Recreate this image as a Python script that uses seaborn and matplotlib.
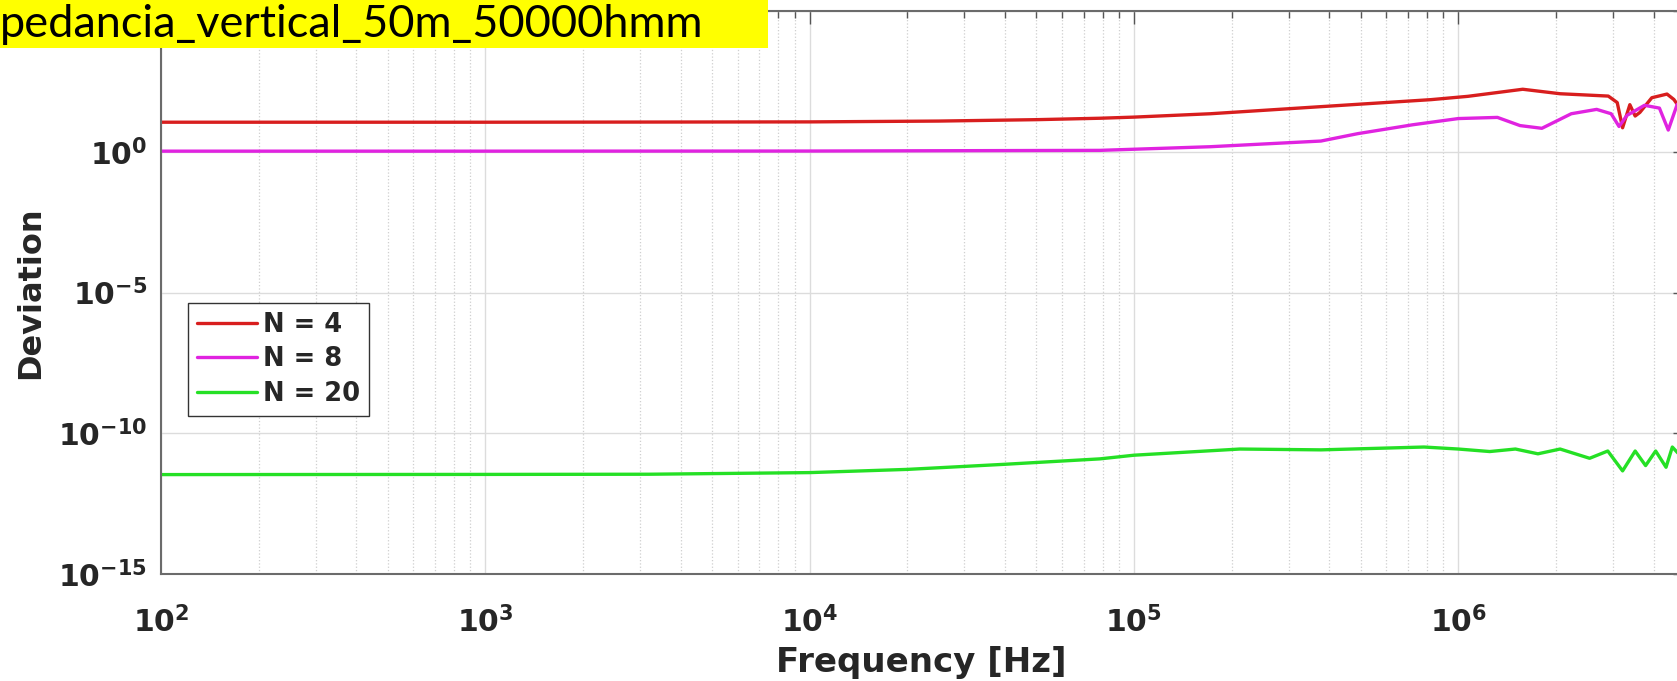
# Deviation vs frequency for several N (log-log), MATLAB-like look
import math
import matplotlib
matplotlib.use("Agg")
import matplotlib.pyplot as plt
import matplotlib.ticker as mticker
from matplotlib.patches import Rectangle
import pandas as pd
import seaborn as sns

# --------------------------
# Data
# --------------------------
freq_n4 = [1e2, 1e3, 1e4, 2.5e4, 5e4, 7.85e4, 1e5, 1.72e5, 3.77e5, 8.24e5, 1.07e6,
           1.58e6, 2.06e6, 2.9e6, 3.09e6, 3.21e6, 3.38e6, 3.51e6, 3.63e6, 3.95e6,
           4.4e6, 4.62e6, 4.79e6, 5e6]
dev_n4 = [11.2, 11.2, 11.5, 12.3, 13.8, 15.5, 17.0, 22.4, 40.0, 71.0, 93.0,
          166.0, 115.0, 95.0, 56.0, 7.1, 47.0, 18.6, 25.0, 83.0,
          112.0, 72.0, 40.0, 30.0]

freq_n8 = [1e2, 1e3, 1e4, 4e4, 7.85e4, 1.72e5, 3.77e5, 4.9e5, 7.24e5, 1e6, 1.32e6,
           1.55e6, 1.81e6, 2.23e6, 2.67e6, 2.96e6, 3.13e6, 3.31e6, 3.75e6, 4.17e6,
           4.44e6, 4.73e6, 5e6]
dev_n8 = [1.05, 1.05, 1.06, 1.10, 1.12, 1.51, 2.4, 4.4, 9.1, 15.1, 16.6,
          8.5, 6.8, 22.4, 32.0, 22.4, 7.9, 19.5, 44.7, 35.5,
          5.9, 47.9, 40.0]

freq_n20 = [1e2, 1e3, 3.2e3, 1e4, 2e4, 4e4, 7.85e4, 1e5, 2.12e5, 3.77e5, 7.84e5,
            1e6, 1.25e6, 1.5e6, 1.76e6, 2.06e6, 2.54e6, 2.89e6, 3.21e6, 3.51e6,
            3.78e6, 4.06e6, 4.37e6, 4.57e6, 4.75e6, 5e6]
dev_n20 = [3.4e-12, 3.45e-12, 3.5e-12, 4.0e-12, 5.2e-12, 7.9e-12, 1.23e-11, 1.66e-11,
           2.75e-11, 2.57e-11, 3.24e-11, 2.75e-11, 2.24e-11, 2.75e-11, 1.86e-11,
           2.75e-11, 1.29e-11, 2.34e-11, 4.6e-12, 2.34e-11, 7.1e-12, 2.34e-11,
           6.2e-12, 3.24e-11, 2.0e-11, 2.5e-11]

series_labels = ["N = 4", "N = 8", "N = 20"]
series_colors = ["#d81e1e", "#e023e0", "#25e025"]

y_ticks = [1e-15, 1e-10, 1e-5, 1e0, 1e5]
title_text = "pedancia_vertical_50m_50000hmm"

# long-form table for seaborn
df = pd.concat([
    pd.DataFrame({"freq": freq_n4, "dev": dev_n4, "series": series_labels[0]}),
    pd.DataFrame({"freq": freq_n8, "dev": dev_n8, "series": series_labels[1]}),
    pd.DataFrame({"freq": freq_n20, "dev": dev_n20, "series": series_labels[2]}),
], ignore_index=True)

# --------------------------
# Style
# --------------------------
sns.set_theme(style="white")
plt.rcParams["font.family"] = ["DejaVu Sans"]
plt.rcParams["mathtext.fontset"] = "custom"
plt.rcParams["mathtext.rm"] = "DejaVu Sans:bold"
plt.rcParams["mathtext.bf"] = "DejaVu Sans:bold"
plt.rcParams["mathtext.it"] = "DejaVu Sans:bold"

W, H = 1677, 681
fig = plt.figure(figsize=(W / 100, H / 100), dpi=100)
left, right, top, bottom = 161, 1685, 11, 574
ax = fig.add_axes([left / W, 1 - bottom / H, (right - left) / W, (bottom - top) / H])

sns.lineplot(data=df, x="freq", y="dev", hue="series",
             palette=dict(zip(series_labels, series_colors)),
             estimator=None, sort=False, linewidth=2.4, ax=ax)

ax.set_xscale("log")
ax.set_yscale("log")
ax.set_xlim(1e2, 5e6)
ax.set_ylim(1e-15, 1e5)

# ticks
ax.xaxis.set_major_locator(mticker.LogLocator(base=10, numticks=20))
ax.xaxis.set_minor_locator(mticker.LogLocator(base=10, subs=range(2, 10), numticks=100))
ax.xaxis.set_minor_formatter(mticker.NullFormatter())
ax.yaxis.set_major_locator(mticker.FixedLocator(y_ticks))
ax.yaxis.set_minor_locator(mticker.NullLocator())
ax.xaxis.set_major_formatter(mticker.FuncFormatter(
    lambda v, pos: r"$\mathbf{10^{%d}}$" % round(math.log10(v))))
# the top y label (10^5) sits under the yellow strip in the reference
ax.yaxis.set_major_formatter(mticker.FuncFormatter(
    lambda v, pos: "" if v >= 1e5 else r"$\mathbf{10^{%d}}$" % round(math.log10(v))))

ax.tick_params(which="both", direction="in", top=True, right=True,
               colors="#555555", labelcolor="#262626", labelsize=21.5, width=1)
ax.tick_params(which="major", length=9)
ax.tick_params(which="minor", length=5)
ax.tick_params(axis="x", which="major", pad=23)
ax.tick_params(axis="y", which="major", pad=10)

# grid
ax.grid(which="major", color="#dcdcdc", linestyle="-", linewidth=1)
ax.xaxis.grid(which="minor", color="#cfcfcf", linestyle=":", linewidth=0.9)
ax.set_axisbelow(True)

for s in ax.spines.values():
    s.set_color("#6b6b6b")
    s.set_linewidth(1.5)

ax.set_xlabel("Frequency [Hz]", fontsize=24.5, fontweight="bold", color="#262626")
ax.xaxis.set_label_coords((921 - left) / (right - left), -(646 - bottom) / (bottom - top))
ax.set_ylabel("Deviation", fontsize=23, fontweight="bold", color="#262626")
ax.yaxis.set_label_coords(-(left - 46) / (right - left), 0.5)

# legend
handles, labels = ax.get_legend_handles_labels()
ax.legend(handles, labels, loc="upper left",
          bbox_to_anchor=((188 - left) / (right - left), (bottom - 303) / (bottom - top)),
          borderaxespad=0, frameon=True, fancybox=False, framealpha=1,
          edgecolor="#333333", prop={"weight": "bold", "size": 18.5},
          handlelength=2.35, handletextpad=0.2, labelspacing=0.33, borderpad=0.35)
ax.get_legend().get_frame().set_linewidth(1.0)

# yellow title strip (cut at the top-left like the reference)
fig.patches.append(Rectangle((0, 1 - 48 / H), 768 / W, 48 / H, transform=fig.transFigure,
                             facecolor="#ffff00", edgecolor="none", zorder=5))
fig.text(0.0, 1 - 37 / H, title_text, fontsize=32.5, family=["Lato", "DejaVu Sans"],
         color="black", ha="left", va="baseline", zorder=6)

fig.savefig("out.png", dpi=100)
